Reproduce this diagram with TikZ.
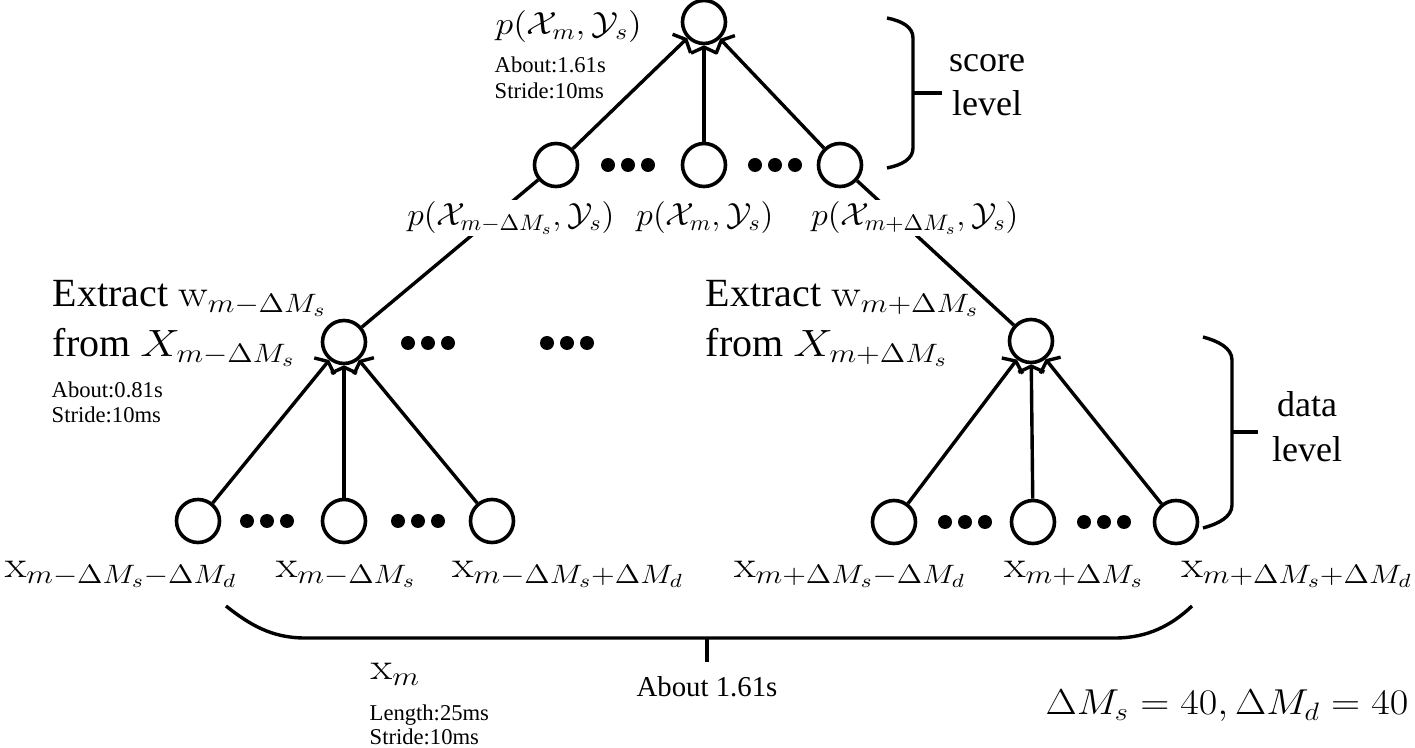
\RequirePackage{fix-cm}
\documentclass[tikz,border=0pt]{standalone}
\usepackage[no-math]{fontspec}
\setmainfont{Liberation Serif}
\usepackage{graphicx}
\usetikzlibrary{arrows.meta}
\newcommand{\mth}[3]{{\fontsize{#1}{#1}\selectfont\scalebox{#2}[1]{$#3$}}}
\newcommand{\fs}[1]{\fontsize{#1}{#1}\selectfont}
\begin{document}
\begin{tikzpicture}[x=0.5pt,y=-0.5pt,line width=1.7pt,
  nd/.style={circle,draw,line width=1.8pt,minimum size=21.5pt,inner sep=0pt},
  arr/.style={-{Straight Barb[length=3pt,width=13pt]}},
  lab/.style={inner sep=0.5pt},
  wlab/.style={inner sep=1pt,fill=white},
  small/.style={inner sep=0pt,anchor=base west,font=\fs{11.3}}]
\useasboundingbox (0,0) rectangle (1415,748);
\newcommand{\threedots}[2]{\fill (#1-20,#2) circle (3.5pt) (#1,#2) circle (3.5pt) (#1+20,#2) circle (3.5pt);}

% score level nodes
\node[nd] (t) at (704,22) {};
\node[nd] (sL) at (556,165) {};
\node[nd] (sM) at (704,165) {};
\node[nd] (sR) at (840,165) {};
\threedots{628}{165}
\threedots{775}{165}

% data level top nodes
\node[nd] (dL) at (344,342) {};
\node[nd] (dR) at (1031,341) {};
\threedots{428}{343}
\threedots{567}{343}

% bottom nodes
\node[nd] (b1) at (198,521) {};
\node[nd] (b2) at (344,521) {};
\node[nd] (b3) at (492,521) {};
\node[nd] (b4) at (894,522) {};
\node[nd] (b5) at (1033,522) {};
\node[nd] (b6) at (1176,522) {};
\threedots{267}{521}
\threedots{418}{521}
\threedots{965}{522}
\threedots{1104}{522}

% connectors
\draw[arr] (sL) -- (t);
\draw[arr] (sM) -- (t);
\draw[arr] (sR) -- (t);
\draw (sL) -- (dL);
\draw (sR) -- (dR);
\draw[arr] (b1) -- (dL);
\draw[arr] (b2) -- (dL);
\draw[arr] (b3) -- (dL);
\draw[arr] (b4) -- (dR);
\draw[arr] (b5) -- (dR);
\draw[arr] (b6) -- (dR);

% braces
\draw (887,18) .. controls (902,21) and (913,27) .. (913,38) -- (913,148) .. controls (913,159) and (902,165) .. (887,168);
\coordinate (sb) at (913,93);
\draw (sb) -- ++(29,0);
\draw (1203,337) .. controls (1218,341) and (1232,348) .. (1232,360) -- (1232,505) .. controls (1232,517) and (1218,524) .. (1203,528);
\coordinate (db) at (1232,432);
\draw (db) -- ++(26,0);
\draw (226,606) .. controls (250,625) and (272,638) .. (305,638) -- (1115,638) .. controls (1148,638) and (1172,625) .. (1192,606);
\coordinate (bb) at (707,638);
\draw (bb) -- ++(0,24);

% labels top
\node[lab,anchor=base west] (tl) at (493,35) {\mth{16}{1.12}{p(\mathcal{X}_m,\mathcal{Y}_s)}};
\node[small] (ta) at (493,73) {About:1.61s};
\node[small] (ts) at (493,99) {Stride:10ms};
\node[lab,anchor=base,font=\fs{18}] (sc1) at (987,72) {score};
\node[lab,anchor=base,font=\fs{18}] (sc2) at (987,116) {level};

% score labels
\node[wlab,anchor=base] (pL) at (511,226) {\mth{16}{1.05}{p(\mathcal{X}_{m-\Delta M_s},\mathcal{Y}_s)}};
\node[wlab,anchor=base] (pM) at (705,226) {\mth{16}{1.05}{p(\mathcal{X}_{m},\mathcal{Y}_s)}};
\node[wlab,anchor=base] (pR) at (915,226) {\mth{16}{1.05}{p(\mathcal{X}_{m+\Delta M_s},\mathcal{Y}_s)}};

% extract labels
\node[lab,anchor=base west,font=\fs{20}] (eL1) at (50,307) {Extract \mth{19}{1.17}{\mathrm{w}_{m-\Delta M_s}}};
\node[lab,anchor=base west,font=\fs{20}] (eL2) at (50,357) {from \mth{19}{1.17}{X_{m-\Delta M_s}}};
\node[small] (la) at (50,398) {About:0.81s};
\node[small] (ls) at (50,423) {Stride:10ms};
\node[lab,anchor=base west,font=\fs{20}] (eR1) at (703,307) {Extract \mth{19}{1.17}{\mathrm{w}_{m+\Delta M_s}}};
\node[lab,anchor=base west,font=\fs{20}] (eR2) at (703,357) {from \mth{19}{1.17}{X_{m+\Delta M_s}}};
\node[lab,anchor=base,font=\fs{18}] (dd1) at (1307,417) {data};
\node[lab,anchor=base,font=\fs{18}] (dd2) at (1307,462) {level};

% bottom labels
\node[lab,anchor=base] (x1) at (121,578) {\mth{19}{1.17}{\mathrm{x}_{m-\Delta M_s-\Delta M_d}}};
\node[lab,anchor=base] (x2) at (346,578) {\mth{19}{1.17}{\mathrm{x}_{m-\Delta M_s}}};
\node[lab,anchor=base] (x3) at (568,578) {\mth{19}{1.17}{\mathrm{x}_{m-\Delta M_s+\Delta M_d}}};
\node[lab,anchor=base] (x4) at (850,578) {\mth{19}{1.17}{\mathrm{x}_{m+\Delta M_s-\Delta M_d}}};
\node[lab,anchor=base] (x5) at (1074,578) {\mth{19}{1.17}{\mathrm{x}_{m+\Delta M_s}}};
\node[lab,anchor=base] (x6) at (1297,578) {\mth{19}{1.17}{\mathrm{x}_{m+\Delta M_s+\Delta M_d}}};

\node[lab,anchor=base west] (xm) at (368,680) {\mth{19}{1.17}{\mathrm{x}_m}};
\node[small] (xl) at (368,720) {Length:25ms};
\node[small] (xs) at (368,745) {Stride:10ms};
\node[lab,anchor=base,font=\fs{14.4}] (ab) at (707,697) {About 1.61s};
\node[lab,anchor=base] (eq) at (1227,715) {\mth{18}{1.12}{\Delta M_s=40,\Delta M_d=40}};
\end{tikzpicture}
\end{document}
